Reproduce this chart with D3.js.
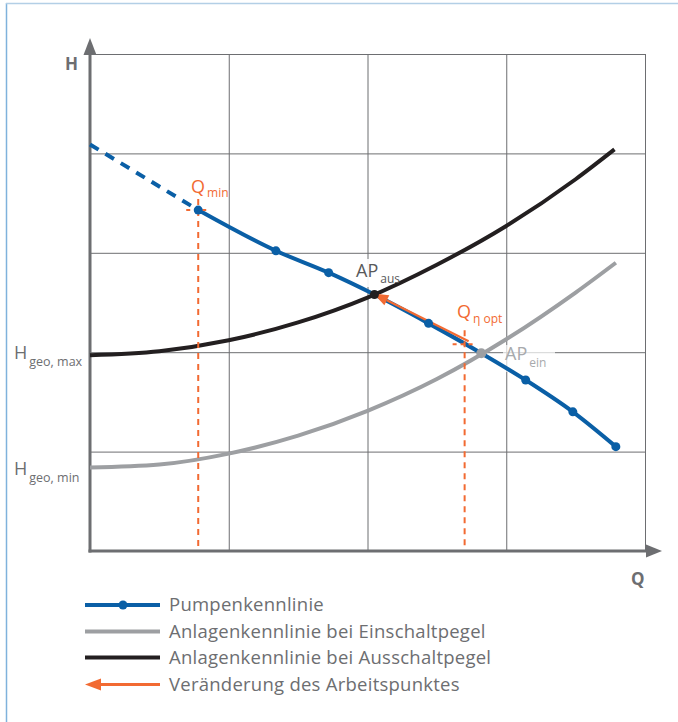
<!DOCTYPE html>
<html>
<head>
<meta charset="utf-8">
<script src="https://cdn.jsdelivr.net/npm/d3@7"></script>
<style>
  html, body { margin: 0; padding: 0; background: #fff; }
  svg { display: block; font-family: "Open Sans", "Noto Sans", sans-serif; }
</style>
</head>
<body>
<svg id="chart" width="678" height="722"></svg>
<script>
// Pump characteristic (Q, H) in grid units
const pumpQ = [0, 0.78, 1.34, 1.72, 2.05, 2.44, 2.82, 3.14, 3.48, 3.79];
const pumpH = [4.09, 3.43, 3.02, 2.80, 2.58, 2.29, 1.99, 1.72, 1.40, 1.05];
// Which pump points get a blue marker
const pumpDots = [1, 2, 3, 5, 7, 8, 9];

// System curve at switch-off level (Ausschaltpegel)
const ausQ = [0, 0.5, 1, 1.5, 2, 2.5, 3, 3.5, 3.78];
const ausH = [1.97, 2.01, 2.12, 2.30, 2.55, 2.88, 3.27, 3.74, 4.04];

// System curve at switch-on level (Einschaltpegel)
const einQ = [0, 0.5, 1, 1.5, 2, 2.5, 3, 3.5, 3.79];
const einH = [0.84, 0.87, 0.98, 1.16, 1.41, 1.73, 2.13, 2.60, 2.90];

// Operating points and flow markers
const apAus = { q: 2.05, h: 2.58 };
const apEin = { q: 2.82, h: 1.99 };
const qMin = { q: 0.78, h: 3.43 };
const qOpt = { q: 2.70, h: 2.08 };

const gridQ = [1, 2, 3, 4];
const gridH = [1, 2, 3, 4, 5];

const legendItems = [
  { label: "Pumpenkennlinie", kind: "pump" },
  { label: "Anlagenkennlinie bei Einschaltpegel", kind: "ein" },
  { label: "Anlagenkennlinie bei Ausschaltpegel", kind: "aus" },
  { label: "Veränderung des Arbeitspunktes", kind: "arrow" }
];

const C = {
  blue: "#0a5fa6",
  black: "#231f20",
  gray: "#9d9fa2",
  orange: "#f26a32",
  axis: "#6d6e71",
  grid: "#6d6e71",
  text: "#6d6e71",
  frame: "#7fb2dc"
};

const svg = d3.select("#chart");
const x = d3.scaleLinear().domain([0, 4]).range([90, 645]);
const y = d3.scaleLinear().domain([0, 5]).range([551, 54]);

// frame
svg.append("line").attr("x1", 6.5).attr("x2", 6.5).attr("y1", 3).attr("y2", 722)
  .attr("stroke", C.frame).attr("stroke-width", 1.5);
svg.append("line").attr("x1", 6).attr("x2", 678).attr("y1", 3.5).attr("y2", 3.5)
  .attr("stroke", "#b3cfe6").attr("stroke-width", 1.5);

// grid via axes
const gx = svg.append("g").attr("transform", `translate(0,${y(0)})`)
  .call(d3.axisBottom(x).tickValues(gridQ).tickSize(-(y(0) - y(5))).tickFormat(""));
const gy = svg.append("g").attr("transform", `translate(${x(0)},0)`)
  .call(d3.axisLeft(y).tickValues(gridH).tickSize(-(x(4) - x(0))).tickFormat(""));
[gx, gy].forEach(g => {
  g.select(".domain").remove();
  g.selectAll(".tick line").attr("stroke", C.grid).attr("stroke-width", 1);
});

// label backgrounds
svg.append("rect").attr("x", 352).attr("y", 259).attr("width", 48).attr("height", 28)
  .attr("fill", "#fff").attr("opacity", 0.9);
svg.append("rect").attr("x", 503).attr("y", 345).attr("width", 52).attr("height", 27)
  .attr("fill", "#fff").attr("opacity", 0.7);

// axes with arrowheads
svg.append("line").attr("x1", x(0)).attr("x2", x(0)).attr("y1", y(0) + 1.5).attr("y2", 50)
  .attr("stroke", C.axis).attr("stroke-width", 3);
svg.append("path").attr("d", `M${x(0)},38 L${x(0) + 6.5},55 L${x(0) - 6.5},55 Z`).attr("fill", C.axis);
svg.append("line").attr("x1", x(0) - 1.5).attr("x2", 650).attr("y1", y(0)).attr("y2", y(0))
  .attr("stroke", C.axis).attr("stroke-width", 3);
svg.append("path").attr("d", `M662,${y(0)} L646,${y(0) - 6.5} L646,${y(0) + 6.5} Z`).attr("fill", C.axis);

svg.append("text").attr("x", 65).attr("y", 70).attr("font-size", 17).attr("font-weight", 700)
  .attr("fill", C.text).text("H");
svg.append("text").attr("x", 631).attr("y", 585).attr("font-size", 17).attr("font-weight", 700)
  .attr("fill", C.text).text("Q");

// system curves
const line = d3.line().x(d => x(d[0])).y(d => y(d[1])).curve(d3.curveMonotoneX);
const ein = einQ.map((q, i) => [q, einH[i]]);
const aus = ausQ.map((q, i) => [q, ausH[i]]);
svg.append("path").attr("d", line(ein)).attr("fill", "none")
  .attr("stroke", C.gray).attr("stroke-width", 4);
svg.append("path").attr("d", line(aus)).attr("fill", "none")
  .attr("stroke", C.black).attr("stroke-width", 4);

// pump curve: dashed below Qmin, solid above
const pump = pumpQ.map((q, i) => [q, pumpH[i]]);
svg.append("path").attr("d", line(pump.slice(0, 2))).attr("fill", "none")
  .attr("stroke", C.blue).attr("stroke-width", 4).attr("stroke-dasharray", "10,8");
svg.append("path").attr("d", line(pump.slice(1))).attr("fill", "none")
  .attr("stroke", C.blue).attr("stroke-width", 4);

// flow markers (dashed verticals + short horizontal ticks)
const dashAttrs = s => s.attr("stroke", C.orange).attr("stroke-width", 2).attr("stroke-dasharray", "6,5");
[[qMin, 11], [qOpt, 14]].forEach(([p, above]) => {
  svg.append("line").attr("x1", x(p.q)).attr("x2", x(p.q)).attr("y1", y(p.h) - above).attr("y2", y(0) - 2)
    .call(dashAttrs);
  svg.append("line").attr("x1", x(p.q) - 12).attr("x2", x(p.q) + 11).attr("y1", y(p.h)).attr("y2", y(p.h))
    .attr("stroke", C.orange).attr("stroke-width", 2).attr("stroke-dasharray", "4,4");
});

// operating point shift arrow
{
  const x1 = x(qOpt.q) + 4, y1 = y(qOpt.h) - 1;
  const x2 = x(apAus.q) - 1, y2 = y(apAus.h) + 1;
  const ang = Math.atan2(y2 - y1, x2 - x1);
  const L = 15, W = 5.5;
  const bx = x2 - L * Math.cos(ang), by = y2 - L * Math.sin(ang);
  svg.append("line").attr("x1", x1).attr("y1", y1 - 2).attr("x2", bx).attr("y2", by - 2)
    .attr("stroke", C.orange).attr("stroke-width", 2.2);
  svg.append("path")
    .attr("d", `M${x2},${y2 - 2} L${bx + W * Math.sin(ang)},${by - 2 - W * Math.cos(ang)} L${bx - W * Math.sin(ang)},${by - 2 + W * Math.cos(ang)} Z`)
    .attr("fill", C.orange);
}

// markers
svg.selectAll("circle.pump").data(pumpDots.map(i => pump[i])).join("circle")
  .attr("class", "pump").attr("cx", d => x(d[0])).attr("cy", d => y(d[1])).attr("r", 4.5)
  .attr("fill", C.blue);
svg.append("circle").attr("cx", x(apAus.q)).attr("cy", y(apAus.h)).attr("r", 4.5).attr("fill", C.black);
svg.append("circle").attr("cx", x(apEin.q)).attr("cy", y(apEin.h)).attr("r", 5).attr("fill", C.gray);

// labels with subscripts
function subLabel(px, py, main, sub, color, size, subSize, dy) {
  const t = svg.append("text").attr("x", px).attr("y", py).attr("fill", color).attr("font-size", size);
  t.append("tspan").text(main);
  t.append("tspan").attr("font-size", subSize).attr("dx", 2).attr("dy", dy).text(sub);
}
subLabel(191, 193, "Q", "min", C.orange, 18, 12, 4);
subLabel(356, 277, "AP", "aus", "#58595b", 18, 12, 6);
subLabel(457, 318, "Q", "η opt", C.orange, 18, 12, 5);
subLabel(505, 360, "AP", "ein", "#a7a9ac", 18, 12, 7);
subLabel(14, 359, "H", "geo, max", C.text, 18, 12.5, 7);
subLabel(14, 475, "H", "geo, min", C.text, 18, 12.5, 7);

// legend
const lg = svg.append("g");
const rowY = [605, 631.5, 657.5, 684.5];
legendItems.forEach((it, i) => {
  const yy = rowY[i];
  const g = lg.append("g");
  if (it.kind === "arrow") {
    g.append("line").attr("x1", 98).attr("x2", 160).attr("y1", yy).attr("y2", yy)
      .attr("stroke", C.orange).attr("stroke-width", 3);
    g.append("path").attr("d", `M85,${yy} L101,${yy - 6} L101,${yy + 6} Z`).attr("fill", C.orange);
  } else {
    const col = it.kind === "pump" ? C.blue : it.kind === "ein" ? C.gray : C.black;
    g.append("line").attr("x1", 85).attr("x2", 160).attr("y1", yy).attr("y2", yy)
      .attr("stroke", col).attr("stroke-width", 4);
    if (it.kind === "pump") g.append("circle").attr("cx", 123).attr("cy", yy).attr("r", 4.5).attr("fill", col);
  }
  g.append("text").attr("x", 169).attr("y", yy + 6).attr("font-size", 18.5)
    .attr("letter-spacing", 0.25).attr("fill", C.text).text(it.label);
});
</script>
</body>
</html>
